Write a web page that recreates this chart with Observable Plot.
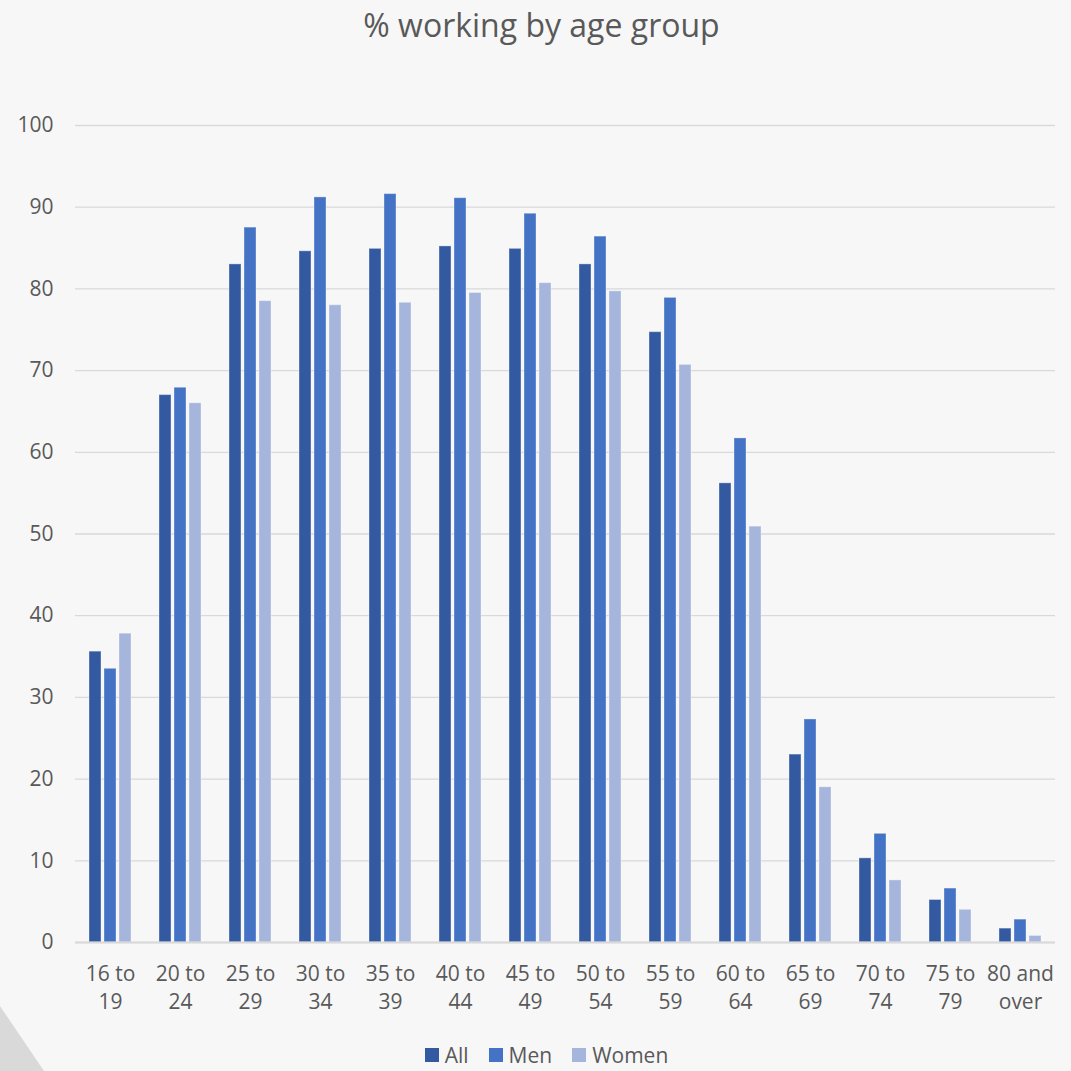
<!DOCTYPE html>
<html>
<head>
<meta charset="utf-8">
<script src="https://cdn.jsdelivr.net/npm/d3@7"></script>
<script src="https://cdn.jsdelivr.net/npm/@observablehq/plot@0.6"></script>
<style>
  html, body { margin: 0; padding: 0; background: #f7f7f7; }
  body { width: 1071px; height: 1071px; position: relative; overflow: hidden; font-family: "Open Sans", sans-serif; color: #595959; }
  #title { position: absolute; top: 3px; left: 6px; width: 1071px; text-align: center; font-size: 32px; color: #595959; }
  #chart { position: absolute; top: 0; left: 0; }
  #legend { position: absolute; top: 1041px; left: 11px; width: 1071px; display: flex; justify-content: center; gap: 20px; font-size: 21px; color: #595959; }
  #legend .item { display: flex; align-items: center; gap: 6px; }
  #legend .sw { width: 14px; height: 14px; display: inline-block; }
  #deco { position: absolute; left: 0; top: 1000px; width: 50px; height: 71px; background: #d9d9d9; clip-path: polygon(0 6px, 44px 71px, 0 71px); }
</style>
</head>
<body>
<div id="deco"></div>
<div id="title">% working by age group</div>
<div id="chart"></div>
<div id="legend"></div>
<script>
const ageGroups = ["16 to\n19","20 to\n24","25 to\n29","30 to\n34","35 to\n39","40 to\n44","45 to\n49","50 to\n54","55 to\n59","60 to\n64","65 to\n69","70 to\n74","75 to\n79","80 and\nover"];
const series = ["All","Men","Women"];
const allValues   = [35.6, 67.0, 83.0, 84.6, 84.9, 85.2, 84.9, 83.0, 74.7, 56.2, 23.0, 10.3, 5.2, 1.7];
const menValues   = [33.5, 67.9, 87.5, 91.2, 91.6, 91.1, 89.2, 86.4, 78.9, 61.7, 27.3, 13.3, 6.6, 2.8];
const womenValues = [37.8, 66.0, 78.5, 78.0, 78.3, 79.5, 80.7, 79.7, 70.7, 50.9, 19.0, 7.6, 4.0, 0.8];
const yTicks = [0,10,20,30,40,50,60,70,80,90,100];
const colors = ["#335aa1","#4472c4","#a5b5db"];

const valuesBySeries = {All: allValues, Men: menValues, Women: womenValues};
const data = [];
ageGroups.forEach((g, i) => series.forEach(s => data.push({age: g, series: s, value: valuesBySeries[s][i]})));

const plot = Plot.plot({
  width: 1071,
  height: 1030,
  marginTop: 125,
  marginBottom: 88,
  marginLeft: 75,
  marginRight: 16,
  style: {background: "transparent", fontFamily: "Open Sans, sans-serif", color: "#595959"},
  fx: {domain: ageGroups, padding: 0, label: null},
  x: {domain: series, paddingInner: 0.2, paddingOuter: 0.858, axis: null},
  y: {domain: [0, 100], label: null},
  color: {domain: series, range: colors},
  marks: [
    Plot.gridY(yTicks, {stroke: "#d9d9d9", strokeOpacity: 1, strokeWidth: 1.3}),
    Plot.axisY(yTicks, {tickSize: 0, tickPadding: 22, fontSize: 21, fill: "#595959", label: null}),
    Plot.axisFx({anchor: "bottom", tickSize: 0, tickPadding: 19, fontSize: 21, lineHeight: 1.33, fill: "#595959", label: null}),
    Plot.barY(data, {fx: "age", x: "series", y: "value", fill: "series", stroke: "#ffffff", strokeOpacity: 0.35, strokeWidth: 1}),
    Plot.ruleY([0], {stroke: "#d9d9d9", strokeWidth: 2})
  ]
});
document.getElementById("chart").appendChild(plot);

const legend = document.getElementById("legend");
series.forEach((s, i) => {
  const item = document.createElement("div");
  item.className = "item";
  const sw = document.createElement("span");
  sw.className = "sw";
  sw.style.background = colors[i];
  const label = document.createElement("span");
  label.textContent = s;
  item.appendChild(sw);
  item.appendChild(label);
  legend.appendChild(item);
});
</script>
</body>
</html>
